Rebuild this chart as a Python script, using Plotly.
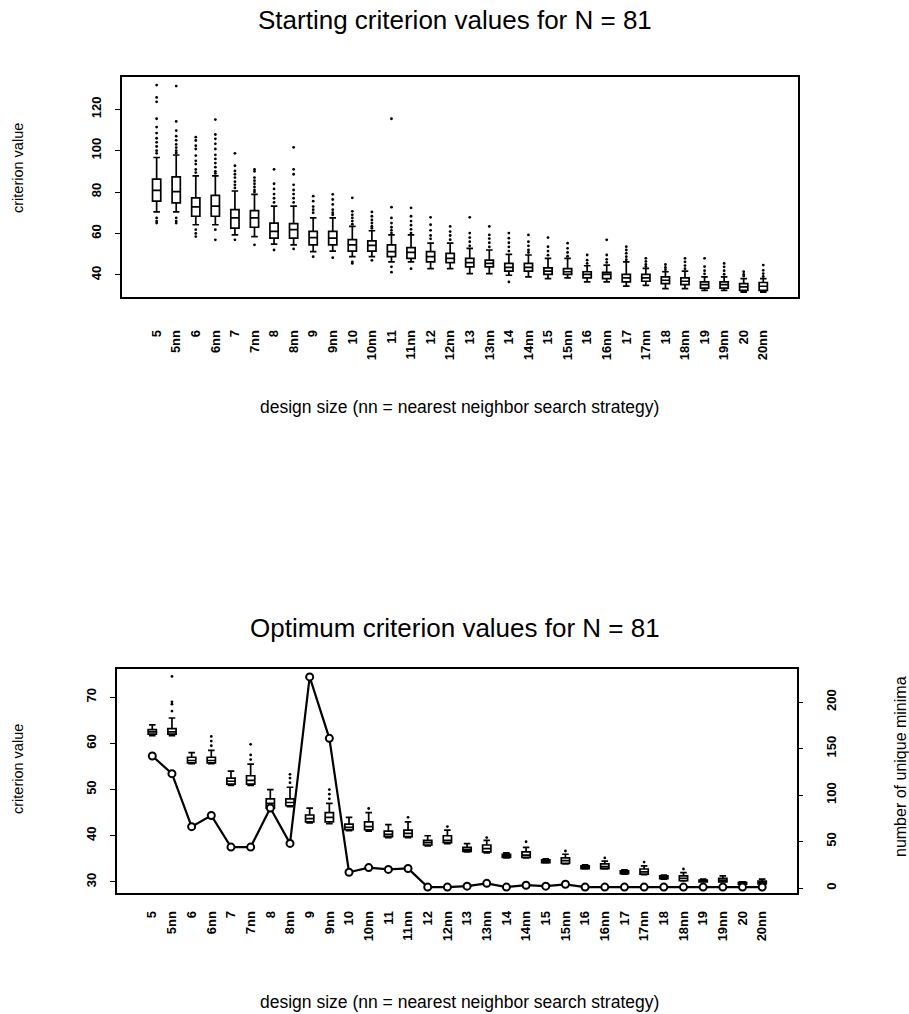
import plotly.graph_objects as go

categories = ["5", "5nn", "6", "6nn", "7", "7nn", "8", "8nn", "9", "9nn", "10", "10nn",
              "11", "11nn", "12", "12nn", "13", "13nn", "14", "14nn", "15", "15nn",
              "16", "16nn", "17", "17nn", "18", "18nn", "19", "19nn", "20", "20nn"]

# ---- Starting criterion values (top panel) ----
start_q3 = [86.2, 87.3, 77.2, 78.4, 71.5, 71.0, 65.0, 64.7, 61.0, 61.0, 57.0, 56.4,
            54.5, 53.2, 51.2, 50.4, 48.0, 47.1, 45.5, 45.5, 43.4, 43.0, 41.5, 41.2,
            40.2, 40.2, 39.0, 38.5, 36.6, 36.6, 35.8, 36.3]
start_q1 = [75.6, 74.8, 68.3, 68.3, 62.6, 63.0, 57.7, 57.7, 54.5, 54.5, 51.5, 51.5,
            48.8, 48.0, 46.3, 45.9, 43.9, 43.9, 41.8, 41.8, 40.2, 40.2, 38.5, 38.2,
            36.6, 36.9, 35.8, 35.3, 33.6, 33.6, 32.5, 32.5]
start_med = [80.8, 80.2, 72.8, 73.2, 67.5, 67.5, 61.0, 61.8, 58.0, 57.7, 54.5, 54.2,
             51.2, 50.9, 48.8, 48.0, 45.9, 45.5, 43.6, 43.6, 41.8, 41.5, 40.2, 40.2,
             38.5, 38.5, 37.4, 36.9, 35.3, 35.3, 34.2, 34.5]
start_hi = [96.7, 97.9, 87.8, 87.8, 80.5, 78.9, 73.2, 73.2, 67.5, 67.5, 63.4, 61.3,
            59.3, 59.3, 55.3, 55.3, 52.8, 52.0, 49.9, 49.6, 48.0, 48.0, 44.4, 44.7,
            46.3, 43.1, 41.5, 41.8, 39.0, 39.0, 38.2, 38.2]
start_lo = [70.4, 70.4, 64.2, 64.2, 59.3, 58.5, 54.8, 54.5, 51.2, 51.5, 48.8, 48.8,
            46.3, 46.3, 43.0, 43.0, 40.6, 40.6, 39.8, 39.0, 38.2, 38.5, 36.6, 36.6,
            34.6, 34.9, 33.3, 33.3, 32.5, 32.5, 31.7, 31.7]
start_outliers = [
    [131.7, 125.7, 123.6, 115.4, 111.4, 108.5, 106, 104, 102, 100, 98.7, 67.5, 66, 65],
    [139, 131.2, 114.1, 109.7, 107, 105, 103, 101.5, 100, 98.9, 67.5, 66, 65],
    [106.5, 104.9, 102.4, 100.8, 97.6, 95.1, 93.5, 90.9, 89.4, 61.8, 60, 58.5],
    [115, 107.8, 105.7, 103.3, 100.8, 98, 96, 94, 92, 90, 89, 61.8, 56.9],
    [98.7, 92.7, 90.2, 88.6, 87, 85, 83.5, 82, 56.9],
    [91, 90, 87, 85.5, 84, 82.5, 81, 80, 54.5],
    [91, 84, 81.5, 79, 77, 75, 52],
    [101.6, 91, 88.6, 83.5, 81, 79, 77, 75, 52.5],
    [78, 75.6, 73, 71.5, 70, 48.8],
    [78.9, 76.4, 74, 71.5, 70, 69, 48.3],
    [77.2, 70.7, 69, 67.5, 66, 64.5, 46.3, 45.5],
    [70.4, 68.3, 66.5, 65, 63.5, 62.5, 47],
    [115.4, 72.7, 67.5, 65, 63, 61.5, 60.2, 43.9, 41.3],
    [72.4, 68.3, 66, 64, 62, 60.2, 43],
    [67.8, 64.2, 61.5, 59, 57.4],
    [63.4, 60.9, 59, 57],
    [67.8, 60.2, 58, 56, 54],
    [63.4, 59.3, 57.5, 55.5, 53.5],
    [60.2, 57.7, 55.5, 53.5, 51.5, 36.6],
    [59.3, 56, 54, 52, 50.8],
    [58, 53.6, 51.5, 49.5],
    [55.3, 52.8, 50.8, 49],
    [49.6, 47.1, 45.5],
    [56.9, 49.6, 47.5, 46],
    [53.6, 52, 50.4, 48.8, 47.3],
    [48, 46.5, 45, 44],
    [45, 43.6, 42.5],
    [48, 46.3, 44.5, 43],
    [48, 44, 42, 40.5],
    [45.5, 43.9, 42, 40.3],
    [41.5, 40.2, 39.4],
    [44.7, 42.2, 40.6, 39.2],
]

# ---- Optimum criterion values (bottom panel) ----
opt_q1 = [62.0, 62.0, 55.8, 55.8, 51.2, 51.2, 46.0, 46.5, 43.0, 43.0, 41.3, 41.3,
          39.8, 39.8, 38.0, 38.5, 36.6, 36.5, 35.3, 35.3, 34.2, 34.0, 32.9, 32.9,
          31.8, 31.7, 30.7, 30.3, 30.0, 30.0, 29.5, 29.6]
opt_med = [62.5, 62.5, 56.3, 56.3, 51.8, 52.0, 47.0, 47.2, 43.7, 44.0, 41.8, 42.0,
           40.3, 40.5, 38.5, 39.0, 37.0, 37.2, 35.7, 35.8, 34.5, 34.6, 33.2, 33.3,
           32.1, 32.2, 31.0, 30.8, 30.2, 30.4, 29.7, 29.9]
opt_q3 = [63.0, 63.2, 57.0, 57.0, 52.5, 53.0, 48.0, 48.0, 44.5, 45.0, 42.5, 43.0,
          41.0, 41.2, 39.0, 40.0, 37.5, 38.0, 36.0, 36.5, 34.8, 35.2, 33.5, 33.9,
          32.4, 32.8, 31.3, 31.3, 30.4, 30.8, 29.9, 30.2]
opt_lo = [61.7, 61.7, 55.6, 55.6, 50.9, 50.9, 45.9, 46.3, 42.8, 42.6, 41.1, 41.0,
          39.6, 39.6, 37.8, 38.3, 36.5, 36.3, 35.2, 35.2, 34.1, 33.9, 32.8, 32.8,
          31.7, 31.6, 30.6, 30.2, 30.0, 30.0, 29.4, 29.5]
opt_hi = [64.0, 65.5, 58.0, 58.5, 54.0, 55.5, 50.0, 50.5, 46.0, 47.0, 44.0, 45.0,
          42.4, 43.0, 40.0, 41.2, 38.3, 39.0, 36.3, 37.5, 35.0, 36.0, 33.7, 34.5,
          32.6, 33.5, 31.5, 32.0, 30.6, 31.3, 30.0, 30.6]
opt_outliers = [
    [], [67, 68.5, 69, 74.5], [], [59.5, 60.5, 61.5], [], [56.5, 57.5, 59.8],
    [], [51.5, 52.5, 53.3], [], [48, 49, 50], [], [45.9], [], [44], [], [42],
    [], [39.6], [], [38.7], [], [36.7], [], [35.2], [], [34.3], [], [32.8],
    [], [], [], [],
]
unique_minima = [142, 123, 66, 78, 44, 44, 86, 48, 227, 161, 17, 22, 20, 21, 1, 1,
                 2, 5, 1, 3, 2, 4, 1, 1, 1, 1, 1, 1, 1, 1, 1, 1]

FONT = "Liberation Sans, Arial, Helvetica, sans-serif"

fig = go.Figure()

def add_boxes(q1, med, q3, lo, hi, outs, xa, ya):
    fig.add_trace(go.Box(
        x=categories, q1=q1, median=med, q3=q3, lowerfence=lo, upperfence=hi,
        boxpoints=False, width=0.42, whiskerwidth=0.8,
        line=dict(color="black", width=1.7), fillcolor="white",
        xaxis=xa, yaxis=ya, showlegend=False, hoverinfo="skip"))
    ox, oy = [], []
    for c, vals in zip(categories, outs):
        for v in vals:
            ox.append(c)
            oy.append(v)
    fig.add_trace(go.Scatter(
        x=ox, y=oy, mode="markers", cliponaxis=False,
        marker=dict(color="black", size=2.8, symbol="circle"),
        xaxis=xa, yaxis=ya, showlegend=False, hoverinfo="skip"))

add_boxes(start_q1, start_med, start_q3, start_lo, start_hi, start_outliers, "x", "y")
add_boxes(opt_q1, opt_med, opt_q3, opt_lo, opt_hi, opt_outliers, "x2", "y2")

fig.add_trace(go.Scatter(
    x=categories, y=unique_minima, mode="lines+markers",
    line=dict(color="black", width=2.2),
    marker=dict(symbol="circle", size=7, color="white", line=dict(color="black", width=2)),
    xaxis="x2", yaxis="y3", showlegend=False, hoverinfo="skip"))

xcommon = dict(type="category", categoryorder="array", categoryarray=categories,
               range=[-1.78, 32.78], showline=True, mirror=True, linecolor="black",
               linewidth=1.6, ticks="", tickangle=-90, showgrid=False, zeroline=False,
               tickfont=dict(family=FONT, size=13, color="black", weight="bold"))
ycommon = dict(showline=True, mirror=True, linecolor="black", linewidth=1.6,
               ticks="outside", ticklen=5, tickwidth=1.2, tickcolor="black",
               tickangle=-90, showgrid=False, zeroline=False, ticklabelstandoff=9,
               tickfont=dict(family=FONT, size=13, color="black", weight="bold"))

fig.update_layout(
    width=909, height=1014, margin=dict(l=0, r=0, t=0, b=0),
    paper_bgcolor="white", plot_bgcolor="white",
    font=dict(family=FONT, color="black"),
    xaxis=dict(domain=[0.134, 0.878], anchor="y", ticklabelstandoff=26, **xcommon),
    yaxis=dict(domain=[0.7071, 0.9241], anchor="x", range=[29.3, 135.6],
               tickvals=[40, 60, 80, 100, 120], **ycommon),
    xaxis2=dict(domain=[0.129, 0.877], anchor="y2", ticklabelstandoff=11, **xcommon),
    yaxis2=dict(domain=[0.1193, 0.3402], anchor="x2", range=[27.6, 76.1],
                tickvals=[30, 40, 50, 60, 70], **ycommon),
    yaxis3=dict(overlaying="y2", anchor="x2", side="right", range=[-5.4, 235.5],
                tickvals=[0, 50, 100, 150, 200], showline=False, ticks="outside",
                ticklen=5, tickwidth=1.2, tickcolor="black", tickangle=-90,
                showgrid=False, zeroline=False, ticklabelstandoff=17,
                tickfont=dict(family=FONT, size=13, color="black", weight="bold")),
)

H = 1014.0
W = 909.0
ann = [
    dict(text="Starting criterion values for N = 81", x=455 / W, y=1 - 20 / H, size=26, angle=0),
    dict(text="Optimum criterion values for N = 81", x=455 / W, y=1 - 628 / H, size=26, angle=0),
    dict(text="design size (nn = nearest neighbor search strategy)", x=459 / W, y=1 - 407 / H, size=17.5, angle=0),
    dict(text="design size (nn = nearest neighbor search strategy)", x=459 / W, y=1 - 1002 / H, size=17.5, angle=0),
    dict(text="criterion value", x=18 / W, y=1 - 168 / H, size=14.5, angle=-90),
    dict(text="criterion value", x=18 / W, y=1 - 769 / H, size=14.5, angle=-90),
    dict(text="number of unique minima", x=900 / W, y=1 - 767 / H, size=16, angle=-90),
]
for a in ann:
    fig.add_annotation(text=a["text"], x=a["x"], y=a["y"], xref="paper", yref="paper",
                       showarrow=False, textangle=a["angle"], xanchor="center", yanchor="middle",
                       borderpad=0,
                       font=dict(family=FONT, size=a["size"], color="black"))

fig.write_html("out.html", config={"displayModeBar": False},
               post_script="document.body.style.margin='0px';document.body.style.overflow='hidden';")
